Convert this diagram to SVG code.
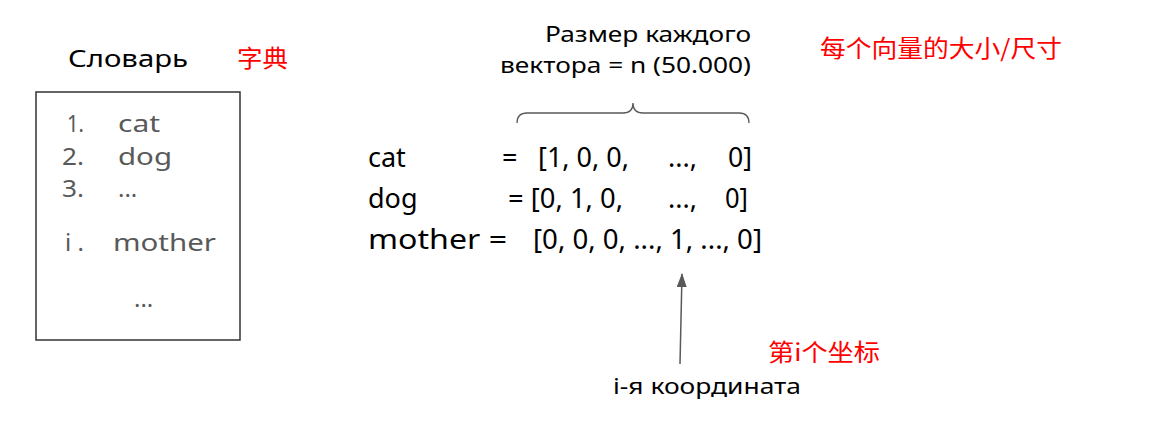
<svg xmlns="http://www.w3.org/2000/svg" width="1170" height="439" viewBox="0 0 1170 439">
<style>
text{font-family:"Noto Sans","Liberation Sans",sans-serif;}
.blk{fill:#000;}
.gry{fill:#595959;font-size:24px;}
.red{fill:#ff0000;font-family:"Noto Sans CJK SC",sans-serif;font-size:24px;}
.vec{fill:#000;font-size:27px;}
.top{fill:#000;font-size:21px;}
</style>
<defs>
<marker id="ah" viewBox="0 0 14 10" refX="13" refY="5" markerWidth="14" markerHeight="10" markerUnits="userSpaceOnUse" orient="auto"><path d="M0,0 L14,5 L0,10 z" fill="#595959"/></marker>
</defs>
<rect width="1170" height="439" fill="#fff"/>
<g id="dictionary">
<text class="blk" x="68" y="67" font-size="24" textLength="120" lengthAdjust="spacingAndGlyphs">Словарь</text>
<text class="red" x="237" y="67" textLength="51" lengthAdjust="spacingAndGlyphs">字典</text>
<rect x="36" y="92" width="204" height="248" fill="none" stroke="#333" stroke-width="1.5"/>
<text class="gry" x="67" y="132" textLength="17" lengthAdjust="spacingAndGlyphs">1.</text>
<text class="gry" x="118" y="132" textLength="42" lengthAdjust="spacingAndGlyphs">cat</text>
<text class="gry" x="62" y="165" textLength="22" lengthAdjust="spacingAndGlyphs">2.</text>
<text class="gry" x="118" y="165" textLength="54" lengthAdjust="spacingAndGlyphs">dog</text>
<text class="gry" x="62" y="197" textLength="22" lengthAdjust="spacingAndGlyphs">3.</text>
<text class="gry" x="118" y="197">...</text>
<text class="gry" x="65" y="251">i .</text>
<text class="gry" x="113" y="251" textLength="103" lengthAdjust="spacingAndGlyphs">mother</text>
<text class="gry" x="134" y="307">...</text>
</g>
<g id="size-label">
<text class="top" x="648" y="42" text-anchor="middle" textLength="206" lengthAdjust="spacingAndGlyphs">Размер каждого</text>
<text class="top" x="500" y="73" textLength="251" lengthAdjust="spacingAndGlyphs">вектора = n (50.000)</text>
<text class="red" x="820" y="57" textLength="242" lengthAdjust="spacingAndGlyphs">每个向量的大小/尺寸</text>
</g>
<g id="vectors">
<text class="vec" x="368" y="167">cat</text>
<text class="vec" x="502" y="167">=</text>
<text class="vec" x="538" y="167" textLength="91" lengthAdjust="spacingAndGlyphs">[1, 0, 0,</text>
<text class="vec" x="668" y="167">...,</text>
<text class="vec" x="728" y="167" textLength="24" lengthAdjust="spacingAndGlyphs">0]</text>
<text class="vec" x="368" y="208">dog</text>
<text class="vec" x="508" y="208" textLength="115" lengthAdjust="spacingAndGlyphs">= [0, 1, 0,</text>
<text class="vec" x="668" y="208">...,</text>
<text class="vec" x="725" y="208" textLength="23" lengthAdjust="spacingAndGlyphs">0]</text>
<text class="vec" x="368" y="249" textLength="139" lengthAdjust="spacingAndGlyphs">mother =</text>
<text class="vec" x="533" y="249" textLength="229" lengthAdjust="spacingAndGlyphs">[0, 0, 0, ..., 1, ..., 0]</text>
</g>
<g id="coord-label">
<text class="blk" x="613" y="394" font-size="22" textLength="188" lengthAdjust="spacingAndGlyphs">i-я координата</text>
<text class="red" x="768" y="361" textLength="112" lengthAdjust="spacingAndGlyphs">第i个坐标</text>
</g>
<g id="connectors">
<path d="M517,123 Q517,113 527,113 L623,113 Q633,113 633,103 Q633,113 643,113 L739,113 Q749,113 749,123" fill="none" stroke="#595959" stroke-width="1.3"/>
<line x1="680" y1="364" x2="682" y2="274" stroke="#595959" stroke-width="1.5" marker-end="url(#ah)"/>
</g>
</svg>
